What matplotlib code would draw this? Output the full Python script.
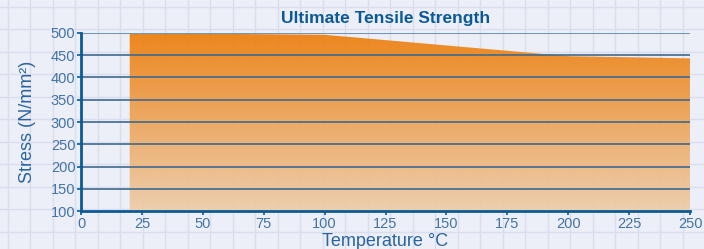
import numpy as np
import matplotlib
matplotlib.use('Agg')
import matplotlib.pyplot as plt
from matplotlib.patches import Polygon

plt.rcParams['font.family'] = ['Liberation Sans', 'DejaVu Sans']

# data
temps = [20, 100, 200, 250]
stress = [500, 496, 448, 443]
yticks = [100, 150, 200, 250, 300, 350, 400, 450, 500]
xticks = [0, 25, 50, 75, 100, 125, 150, 175, 200, 225, 250]

blue = '#0b5a96'
label_blue = '#2a64a0'
tick_blue = '#4474a4'

fig = plt.figure(figsize=(7.04, 2.49), dpi=100)
fig.patch.set_facecolor('#eceff8')

# graph paper background
bg = fig.add_axes([0, 0, 1, 1])
bg.set_xlim(0, 704)
bg.set_ylim(249, 0)
bg.axis('off')
for gx in np.arange(7.5, 704, 22.5):
    bg.axvline(gx, color='#d9deee', lw=1)
for gy in np.arange(6.7, 249, 22.5):
    bg.axhline(gy, color='#d9deee', lw=1)

ax = fig.add_axes([81/704, 1 - 211/249, (690 - 81)/704, (211 - 33)/249])
ax.set_facecolor('none')
ax.set_xlim(0, 250)
ax.set_ylim(100, 500)

# gradient fill under the curve
poly_x = [temps[0]] + temps + [temps[-1]]
poly_y = [100] + stress + [100]
poly = Polygon(list(zip(poly_x, poly_y)), closed=True, facecolor='none', edgecolor='none')
ax.add_patch(poly)
top = np.array([0.93, 0.49, 0.04])
bottom = np.array([0.93, 0.80, 0.66])
t = np.linspace(0, 1, 256)[:, None]
grad = (top * (1 - t) + bottom * t)[:, None, :]
grad = np.repeat(grad, 2, axis=1)
im = ax.imshow(grad, extent=[0, 250, 100, 500], aspect='auto', origin='upper',
               alpha=0.92, zorder=1)
im.set_clip_path(poly)

for y in yticks[1:-1]:
    ax.axhline(y, color='#3f6a8e', lw=1.2, zorder=2)
ax.axhline(500, color='#6f96bb', lw=1.5, zorder=2)

ax.set_xticks(xticks)
ax.set_yticks(yticks)
ax.tick_params(colors=blue, labelcolor=tick_blue, labelsize=10.5, length=3, width=1.2, pad=1)
for s in ['top', 'right']:
    ax.spines[s].set_visible(False)
for s in ['left', 'bottom']:
    ax.spines[s].set_color(blue)
    ax.spines[s].set_linewidth(2)

ax.set_xlabel('Temperature °C', color=label_blue, fontsize=13, labelpad=2)
ax.set_ylabel('Stress (N/mm²)', color=label_blue, fontsize=13, labelpad=11)
ax.set_title('Ultimate Tensile Strength', color=blue, fontsize=12.5, fontweight='bold', pad=7)

fig.savefig('out.png', dpi=100, facecolor=fig.get_facecolor())
